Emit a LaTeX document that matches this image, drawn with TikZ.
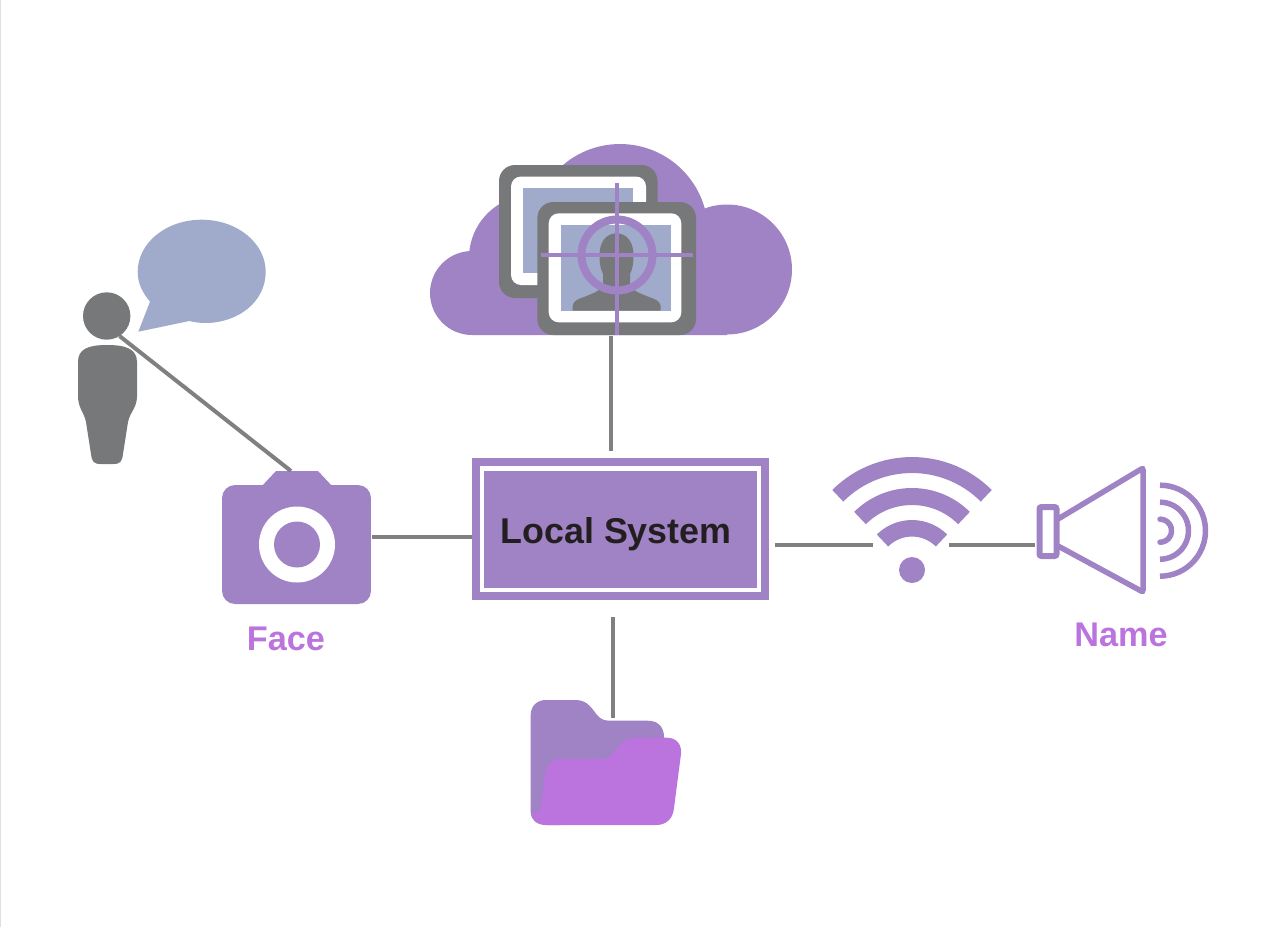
\documentclass[tikz,border=0pt]{standalone}
\usepackage{fontspec}
\setmainfont{Liberation Sans}
\usetikzlibrary{positioning}
\definecolor{lilac}{HTML}{A083C4}
\definecolor{orchid}{HTML}{BB74DE}
\definecolor{slate}{HTML}{77787A}
\definecolor{haze}{HTML}{A0ABCB}
\definecolor{ink}{HTML}{231F20}
\tikzset{
  wire/.style={draw=gray,line width=0.08cm},
  stroke/.style={draw=lilac,line width=0.11cm},
  framebox/.style={fill=slate,rounded corners=0.32cm},
  framewhite/.style={fill=white,rounded corners=0.2cm},
  caption/.style={text=orchid,font=\fontsize{19.5}{22}\selectfont\bfseries},
  sysbox/.style={fill=lilac,inner sep=0pt,minimum width=#1}
}
\begin{document}
\begin{tikzpicture}[x=0.02cm,y=-0.02cm]
  \useasboundingbox (0,0) rectangle (1267,927);
  \draw[black!12,line width=0.02cm] (0.8,0) -- (0.8,927);
  % cloud
  \fill[lilac] (472,293) circle[radius=0.84cm] (532,258) circle[radius=1.26cm] (620,232) circle[radius=1.76cm] (727,269.5) circle[radius=1.3cm] (472,280) rectangle (727,335);
  % back picture
  \fill[framebox] (499,165) rectangle (657.5,298);
  \fill[framewhite] (511,176.5) rectangle (646,285);
  \fill[haze] (522.7,188.3) rectangle (633.3,273.3);
  % front picture
  \fill[framebox] (537.3,202) rectangle (696,335);
  \fill[framewhite] (548.7,213.3) rectangle (681.3,322.3);
  \fill[haze] (560.7,225.3) rectangle (671.3,310.7);
  \fill[slate] (572.7,310.7) -- (572.7,306) .. controls (573,301) and (578,299) .. (584,297) .. controls (594,293) and (602,290) .. (603,284) -- (603,274) .. controls (600,268) and (599.5,262) .. (599.5,255) .. controls (599.5,241) and (607,233.3) .. (616.5,233.3) .. controls (626,233.3) and (633.5,241) .. (633.5,255) .. controls (633.5,262) and (633,268) .. (630,274) -- (630,284) .. controls (631,290) and (639,293) .. (649,297) .. controls (655,299) and (660,301) .. (660.7,306) -- (660.7,310.7) -- cycle;
  % target
  \draw[stroke,line width=0.08cm] (617,183) -- (617,335) (540.7,255) -- (693.3,255);
  \draw[stroke,line width=0.16cm] (617,255) circle[radius=0.71cm];
  % person and bubble
  \fill[slate] (106.7,316) circle[radius=0.474cm];
  \fill[slate] (107,345) .. controls (126,345) and (137,349) .. (137,362) -- (137,396) .. controls (137,408) and (130,412) .. (128,422) -- (123,454) .. controls (122,462) and (120,464) .. (113,464) -- (101,464) .. controls (94,464) and (92,462) .. (91,454) -- (86,422) .. controls (84,412) and (78,408) .. (78,396) -- (78,362) .. controls (78,349) and (88,345) .. (107,345) -- cycle;
  \fill[haze] (138.3,331.7) -- (150,301.7) .. controls (142,292) and (137.7,283) .. (137.7,271.7) .. controls (137.7,243) and (166,219.7) .. (201.7,219.7) .. controls (237,219.7) and (265.7,243) .. (265.7,271.7) .. controls (265.7,302) and (238,323) .. (205,323) .. controls (199,323) and (194,322) .. (189.3,321) -- cycle;
  % camera
  \node[fill=lilac,rounded corners=0.26cm,minimum width=2.98cm,minimum height=2.38cm,inner sep=0pt] (camera) at (296.5,544.5) {};
  \fill[lilac] (261,487) -- (276,471) -- (318,471) -- (333,487) -- cycle;
  \fill[white] (297,544.5) circle[radius=0.76cm];
  \fill[lilac] (297,544.5) circle[radius=0.46cm];
  \node[caption] (face) at (286,639) {Face};
  % local system
  \node[sysbox=5.94cm,minimum height=2.84cm] (sys) at (620.5,529) {};
  \node[sysbox=5.62cm,minimum height=2.52cm,fill=white] (sysgap) at (620.5,529) {};
  \node[sysbox=5.46cm,minimum height=2.34cm] (sysinner) at (620.5,529) {};
  \node[text=ink,font=\fontsize{20.4}{24}\selectfont\bfseries] (systext) at (616,534) {Local System};
  % wifi
  \fill[lilac] (912,570) circle[radius=0.26cm];
  \foreach \r/\w in {105/0.32,73.5/0.34,41.7/0.33}
    \draw[lilac,line width=\w cm] plot[domain=45:135,samples=30] ({912+\r*cos(\x)},{570-\r*sin(\x)});
  % speaker
  \draw[stroke,line width=0.12cm,rounded corners=0.04cm] (1039.5,507) rectangle (1056.5,556);
  \draw[stroke,rounded corners=0.04cm] (1058,519) -- (1143,468) -- (1143,592) -- (1058,546);
  \foreach \r in {45.5,28.5}
    \draw[stroke] plot[domain=-90:90,samples=30] ({1160+\r*cos(\x)},{530.7-\r*sin(\x)});
  \draw[stroke,line cap=round] plot[domain=-90:90,samples=20] ({1160+11.5*cos(\x)},{530.7-11.5*sin(\x)});
  \node[caption] (name) at (1121,635) {Name};
  % folder
  \fill[lilac] (530.7,715) .. controls (530.7,706) and (537,700) .. (546,700) -- (575,700) .. controls (586,700) and (590,706) .. (594,711) .. controls (598,717) and (602,720.7) .. (609,720.7) -- (648,720.7) .. controls (658,720.7) and (664,727) .. (664,737) -- (664,760) -- (560,825) -- (546,825) .. controls (537,825) and (530.7,820) .. (530.7,812) -- cycle;
  \fill[orchid] (531,813) .. controls (536,814) and (540,812) .. (541,805) -- (545,775) .. controls (546,766) and (552,759) .. (560,759) -- (600,759) .. controls (610,759) and (614,752) .. (619,746) .. controls (623,741) and (628,737.7) .. (636,737.7) -- (667,737.7) .. controls (677,737.7) and (682,745) .. (681,754) -- (674,808) .. controls (673,819) and (666,825) .. (656,825) -- (546,825) .. controls (539,825) and (533,820) .. (531,813) -- cycle;
  % connectors
  \coordinate (headport) at (119.5,336);
  \coordinate (camtop) at (291,471);
  \coordinate (camright) at (372,537);
  \coordinate (sysleft) at (472,537);
  \coordinate (cloudport) at (611,336);
  \coordinate (systop) at (611,451);
  \coordinate (sysbottom) at (613,617);
  \coordinate (folderport) at (613,718);
  \coordinate (sysright) at (775,545);
  \coordinate (wifileft) at (873,545);
  \coordinate (wifiright) at (949,545);
  \coordinate (speakerport) at (1035,545);
  \draw[wire] (headport) -- (camtop);
  \draw[wire] (camright) -- (sysleft);
  \draw[wire] (cloudport) -- (systop);
  \draw[wire] (sysbottom) -- (folderport);
  \draw[wire] (sysright) -- (wifileft);
  \draw[wire] (wifiright) -- (speakerport);
\end{tikzpicture}
\end{document}
